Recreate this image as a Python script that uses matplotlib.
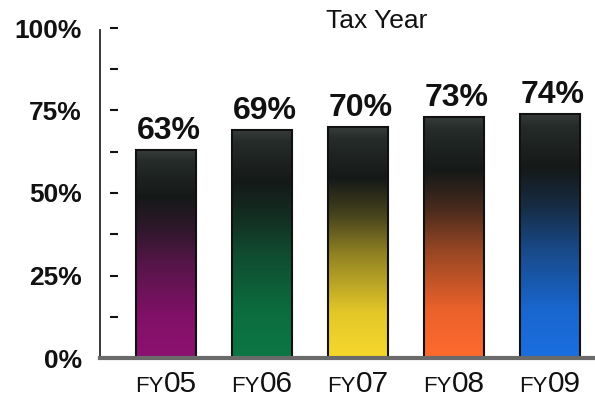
import numpy as np
import matplotlib
matplotlib.use("Agg")
import matplotlib.pyplot as plt
from matplotlib.colors import to_rgb

plt.rcParams['font.family'] = ['Liberation Sans', 'DejaVu Sans']

# Data
categories = ['FY05', 'FY06', 'FY07', 'FY08', 'FY09']
values = [63, 69, 70, 73, 74]
bar_colors = ['#8c1271', '#0c7744', '#f6d82c', '#ff6a2e', '#1b6fe0']
y_ticks = [0, 25, 50, 75, 100]
title = 'Tax Year'

fig = plt.figure(figsize=(5.95, 4.0), dpi=100)
ax = fig.add_axes([100 / 595, 42 / 400, 495 / 595, 330 / 400])

x = np.arange(len(categories))
width = 0.625

dark_mid = np.array(to_rgb('#151918'))
dark_top = np.array(to_rgb('#262c2a'))
edge_top = np.array(to_rgb('#363c3a'))


def gradient(color, n=256):
    """Vertical colour ramp: full colour at the bottom fading to near black at the top."""
    base = np.array(to_rgb(color))
    t = np.linspace(0, 1, n)
    stops_t = [0.0, 0.2, 0.45, 0.62, 0.78, 0.95, 1.0]
    stops_c = [base,
               base * 0.92,
               base * 0.55 + dark_mid * 0.45,
               base * 0.22 + dark_mid * 0.78,
               dark_mid,
               dark_top,
               edge_top]
    rgb = np.zeros((n, 1, 3))
    for ch in range(3):
        rgb[:, 0, ch] = np.interp(t, stops_t, [c[ch] for c in stops_c])
    return rgb


for xi, v, c in zip(x, values, bar_colors):
    ax.imshow(gradient(c), extent=[xi - width / 2, xi + width / 2, 0, v],
              origin='lower', aspect='auto', interpolation='bilinear', zorder=2)

ax.bar(x, values, width=width, facecolor='none', edgecolor='#111111',
       linewidth=1.5, zorder=3)
ax.set_xlim(-0.6875, 4.47)
ax.set_ylim(0, 100)
ax.set_aspect('auto')

# Value labels
for xi, v in zip(x, values):
    ax.annotate(f'{v}%', xy=(xi, v), xytext=(2, 3), textcoords='offset points',
                ha='center', va='bottom', fontsize=23, fontweight='bold',
                color='#111111', zorder=4)

# Category labels with a smaller "FY" prefix
ax.set_xticks(x)
ax.set_xticklabels([''] * len(x))
ax.tick_params(axis='x', length=0)
for xi, cat in zip(x, categories):
    prefix, year = cat[:2], cat[2:]
    ax.annotate(prefix, xy=(xi, 0), xycoords=('data', 'axes fraction'),
                xytext=(-1.5, -24.5), textcoords='offset points',
                ha='right', va='baseline', fontsize=16, color='#111111')
    ax.annotate(year, xy=(xi, 0), xycoords=('data', 'axes fraction'),
                xytext=(-1.5, -24.5), textcoords='offset points',
                ha='left', va='baseline', fontsize=21.5, color='#111111')

# Y axis
ax.set_yticks(y_ticks)
ax.set_yticklabels([f'{t}%' for t in y_ticks], fontsize=19, fontweight='bold',
                   color='#111111')
ax.tick_params(axis='y', length=0, pad=13)

# Detached dash marks every 12.5%
dash_y = np.arange(12.5, 100.1, 12.5)
ax.hlines(dash_y, 0.021, 0.036, transform=ax.get_yaxis_transform(),
          color='#111111', linewidth=1.5, zorder=3, clip_on=False)

for side in ['top', 'right']:
    ax.spines[side].set_visible(False)
ax.spines['left'].set_color('#2a2a2a')
ax.spines['left'].set_linewidth(1.3)
ax.spines['left'].set_bounds(0, 99.5)
ax.spines['bottom'].set_color('#6a6a6a')
ax.spines['bottom'].set_linewidth(3)
ax.spines['bottom'].set_zorder(5)

fig.text(377 / 595, 1 - 21 / 400, title, ha='center', va='center',
         fontsize=19, color='#111111')

fig.savefig('out.png', dpi=100, facecolor='white')
